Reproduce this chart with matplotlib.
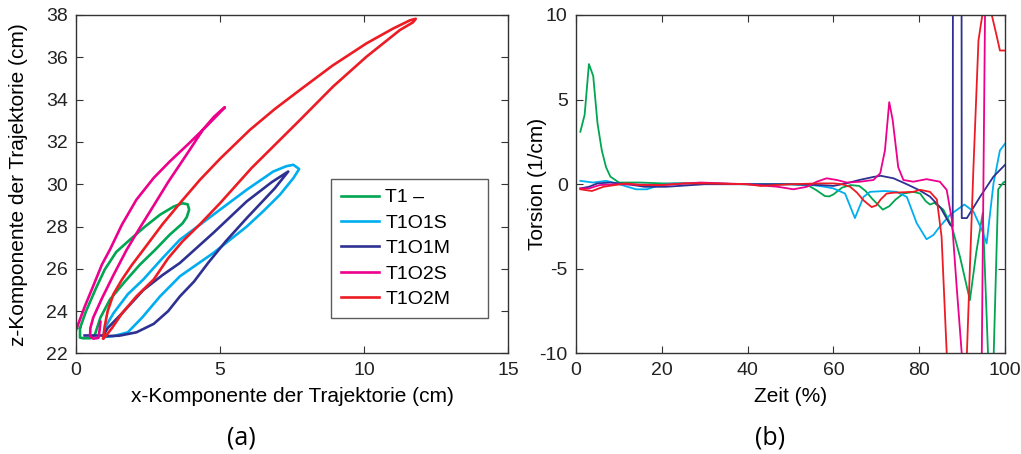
import matplotlib
matplotlib.use('Agg')
import matplotlib.pyplot as plt

plt.rcParams['font.family'] = ['Liberation Sans', 'DejaVu Sans']
plt.rcParams['axes.unicode_minus'] = False

# colours of the five trials
colors = {
    'T1 –': '#00A651',
    'T1O1S': '#00AEEF',
    'T1O1M': '#2E3192',
    'T1O2S': '#EC008C',
    'T1O2M': '#ED1C24',
}
labels = list(colors.keys())

# (a) trajectory loops, x / z component (cm)
t1_x = [0.14, 0.35, 0.7, 1.0, 1.4, 1.875, 2.4, 2.92, 3.4, 3.7, 3.88, 3.93, 3.85, 3.7,
        3.26, 2.75, 2.22, 1.7, 1.18, 0.85, 0.66, 0.5, 0.25, 0.14, 0.14]
t1_z = [23.2, 24.0, 25.1, 25.97, 26.8, 27.38, 28.0, 28.56, 28.95, 29.1, 29.05, 28.8, 28.45, 28.15,
        27.62, 26.9, 26.2, 25.4, 24.55, 23.7, 22.9, 22.72, 22.72, 22.75, 23.2]

t1o1s_x = [0.95, 1.0, 1.3, 1.8, 2.34, 3.0, 3.61, 4.77, 5.93, 6.85, 7.3, 7.55, 7.75, 7.55,
           7.08, 6.5, 5.93, 4.77, 3.61, 2.92, 2.3, 1.8, 1.3, 1.0]
t1o1s_z = [22.8, 23.2, 23.9, 24.8, 25.5, 26.5, 27.38, 28.56, 29.74, 30.6, 30.85, 30.92, 30.72, 30.29,
           29.5, 28.72, 28.0, 26.75, 25.65, 24.7, 23.7, 23.0, 22.82, 22.78]

t1o1m_x = [0.3, 0.95, 1.1, 1.6, 2.34, 3.0, 3.61, 4.77, 5.93, 6.8, 7.37, 6.9, 5.93, 5.2,
           4.6, 4.1, 3.61, 3.2, 2.7, 2.1, 1.5, 1.0]
t1o1m_z = [22.85, 22.85, 23.2, 23.9, 25.0, 25.7, 26.28, 27.7, 29.19, 30.1, 30.6, 29.8, 28.4, 27.3,
           26.3, 25.4, 24.7, 24.0, 23.4, 23.0, 22.84, 22.82]

t1o2s_x = [0.0, 0.3, 0.62, 0.9, 1.18, 1.6, 2.1, 2.7, 3.26, 3.9, 4.5, 4.9, 5.17, 4.8, 4.42,
           3.84, 3.2, 2.68, 2.2, 1.76, 1.3, 0.9, 0.6, 0.5, 0.49, 0.6, 0.78, 0.82, 0.85]
t1o2s_z = [23.1, 24.2, 25.26, 26.2, 26.91, 28.1, 29.27, 30.3, 31.08, 31.9, 32.7, 33.25, 33.64, 33.2, 32.6,
           31.4, 30.1, 28.95, 27.9, 26.9, 25.7, 24.6, 23.7, 23.2, 22.82, 22.7, 22.74, 23.1, 23.5]

t1o2m_x = [0.95, 1.0, 1.1, 1.3, 1.6, 1.95, 2.34, 3.0, 3.67, 4.3, 5.0, 6.04, 6.9, 7.78, 8.9,
           10.09, 11.0, 11.6, 11.8, 11.7, 11.25, 10.09, 8.93, 7.78, 6.1, 5.0, 4.3, 3.7, 3.2,
           2.7, 2.1, 1.6, 1.25, 1.05, 0.95]
t1o2m_z = [22.72, 23.3, 24.0, 24.8, 25.5, 26.2, 26.9, 28.1, 29.2, 30.2, 31.2, 32.57, 33.55, 34.46, 35.6,
           36.66, 37.35, 37.75, 37.82, 37.65, 37.29, 36.03, 34.62, 33.04, 30.77, 29.1, 28.1, 27.3, 26.5,
           25.5, 24.7, 23.9, 23.2, 22.85, 22.72]

traj = [(t1_x, t1_z), (t1o1s_x, t1o1s_z), (t1o1m_x, t1o1m_z), (t1o2s_x, t1o2s_z), (t1o2m_x, t1o2m_z)]

# (b) torsion over time
t1_t = [1, 2, 3, 4, 5, 6, 7, 8, 10, 15, 20, 30, 40, 50, 54, 56, 58, 59, 60, 62, 64, 66, 67.5, 69,
        71.5, 73, 74.5, 76.3, 78.6, 80.2, 81.5, 82.5, 83.5, 85.6, 87.6, 89.5, 91.8, 93.3, 94.8,
        96.1, 96.7, 97.3, 98.4, 99.6, 100]
t1_v = [3.1, 4.1, 7.1, 6.4, 3.6, 2.0, 1.0, 0.45, 0.1, 0.1, 0.05, 0.05, 0.0, 0.0, -0.05, -0.35, -0.7,
        -0.72, -0.6, -0.2, -0.05, -0.1, -0.4, -0.85, -1.5, -1.3, -0.9, -0.55, -0.45, -0.55, -1.0,
        -1.2, -1.1, -1.5, -2.5, -4.3, -6.85, -4.0, -1.7, -10.5, -14, -10.5, -0.3, 0.1, 0.15]

t1o1s_t = [1, 4, 7, 9.5, 12, 14, 16.5, 19.5, 23, 30, 40, 50, 55, 58, 60, 62.7, 65, 67, 68.5, 72,
           74.7, 77.1, 79.4, 81.7, 83.3, 84.8, 87.2, 90.5, 92.6, 94.6, 95.7, 97.3, 98.8, 100]
t1o1s_v = [0.2, 0.1, 0.2, 0.05, -0.15, -0.3, -0.3, -0.05, 0.05, 0.05, 0.0, 0.0, -0.05, -0.15, -0.25,
           -0.55, -2.0, -0.75, -0.45, -0.4, -0.45, -0.75, -2.3, -3.25, -3.0, -2.5, -1.8, -1.2, -1.6,
           -2.7, -3.5, 0.05, 2.0, 2.4]

t1o1m_t = [1, 3, 5, 8, 12, 16, 21, 30, 40, 50, 57, 60, 63, 66, 69.3, 71, 74, 77.1, 80, 82.5, 85,
           87.2, 87.8, 88.0, 89.7, 89.9, 91.1, 94.2, 97.3, 100]
t1o1m_v = [-0.25, -0.15, 0.05, 0.1, 0.0, -0.15, -0.15, 0.0, 0.0, 0.0, -0.05, -0.1, 0.05, 0.25, 0.43,
           0.5, 0.35, 0.0, -0.35, -0.73, -1.4, -2.4, -2.5, 60, 60, -2.0, -2.0, -0.73, 0.45, 1.15]

t1o2s_t = [1, 3, 5.5, 10, 20, 29, 40, 47, 50.7, 53.8, 56.1, 58.4, 60.8, 63.1, 66.2, 69.3, 70.9, 72,
           73, 73.8, 75.1, 76.3, 78.6, 81.7, 84.8, 86.4, 87.6, 88.7, 89.9, 90.5, 94.0, 94.5, 95.4]
t1o2s_v = [-0.25, -0.25, -0.05, 0.0, -0.05, 0.1, 0.0, -0.15, -0.3, -0.15, 0.15, 0.35, 0.25, 0.1, 0.15,
           0.25, 0.65, 2.0, 4.85, 3.8, 1.0, 0.25, 0.15, 0.3, 0.15, -0.34, -2.1, -6.0, -10, -14, -14,
           -12, 12]

t1o2m_t = [1, 3.7, 6.4, 9, 11.8, 15, 20, 25, 30, 40, 43, 50, 57, 60, 62, 63.9, 65.5, 67, 68.9, 70,
           71, 72.4, 74, 78.6, 80.2, 82.5, 84.1, 85.2, 86.4, 87, 90.5, 91.1, 92.6, 93.8, 95, 96,
           96.9, 98.1, 98.8, 100]
t1o2m_v = [-0.3, -0.4, -0.15, -0.05, 0.05, -0.05, -0.05, 0.05, 0.05, 0.0, -0.1, 0.0, 0.05, 0.05, 0.0,
           -0.15, -0.5, -0.95, -1.35, -1.25, -0.9, -0.55, -0.5, -0.45, -0.33, -0.45, -0.9, -3.1, -10,
           -14, -14, -10, 0.8, 8.5, 10.5, 11, 10, 8.7, 7.9, 7.9]

tors = [(t1_t, t1_v), (t1o1s_t, t1o1s_v), (t1o1m_t, t1o1m_v), (t1o2s_t, t1o2s_v), (t1o2m_t, t1o2m_v)]

fig = plt.figure(figsize=(10.21, 4.54), dpi=100)
ax1 = fig.add_axes([0.0744, 0.2214, 0.4231, 0.7456])
ax2 = fig.add_axes([0.5642, 0.2214, 0.4202, 0.7456])

for lab, (x, z) in zip(labels, traj):
    ax1.plot(x, z, color=colors[lab], lw=1.9, label=lab)
for lab, (t, v) in zip(labels, tors):
    ax2.plot(t, v, color=colors[lab], lw=1.3)

ax1.set_xlim(0, 15)
ax1.set_ylim(22, 38)
ax1.set_xticks([0, 5, 10, 15])
ax1.set_yticks(range(22, 39, 2))
ax1.set_xlabel('x-Komponente der Trajektorie (cm)', fontsize=15)
ax1.set_ylabel('z-Komponente der Trajektorie (cm)', fontsize=15)
ax1.xaxis.set_label_coords(0.5, -0.1)
ax1.yaxis.set_label_coords(-0.111, 0.5)

ax2.set_xlim(0, 100)
ax2.set_ylim(-10, 10)
ax2.set_xticks(range(0, 101, 20))
ax2.set_yticks([-10, -5, 0, 5, 10])
ax2.set_xlabel('Zeit (%)', fontsize=15)
ax2.set_ylabel('Torsion (1/cm)', fontsize=15)
ax2.xaxis.set_label_coords(0.5, -0.1)
ax2.yaxis.set_label_coords(-0.068, 0.5)

for ax in (ax1, ax2):
    ax.tick_params(direction='in', length=5, width=0.8, top=True, right=True,
                   labelsize=14, colors='#333333', labelcolor='#222222', pad=6)
    for s in ax.spines.values():
        s.set_color('#333333')
        s.set_linewidth(1.0)

leg = ax1.legend(loc='upper left', bbox_to_anchor=(0.59, 0.105, 0.363, 0.41), mode='expand',
                 fontsize=14, frameon=True, fancybox=False, edgecolor='#333333',
                 handlelength=2.0, handletextpad=0.3, borderpad=0.5, labelspacing=0.4,
                 borderaxespad=0)
leg.get_frame().set_linewidth(1.0)

fig.text(0.236, 0.035, '(a)', ha='center', va='center', fontsize=18, family='Open Sans')
fig.text(0.754, 0.035, '(b)', ha='center', va='center', fontsize=18, family='Open Sans')

fig.savefig('out.png', dpi=100)
